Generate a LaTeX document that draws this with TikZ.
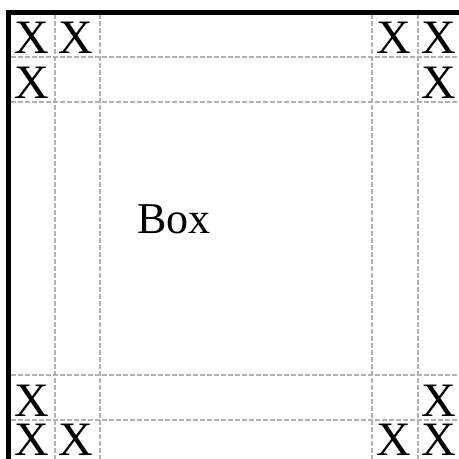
\documentclass[tikz,border=0pt]{standalone}
\usepackage{fontspec}
\setmainfont{Liberation Serif}
\begin{document}
\begin{tikzpicture}[x=1pt,y=-1pt,
  grid/.style={draw=black!30, line width=1.2pt, dash pattern=on 4.5pt off 2.5pt},
  edge/.style={draw=black, line width=5pt},
  mark X/.style={inner sep=0pt, anchor=base west, font=\fontsize{48}{48}\selectfont},
  label box/.style={inner sep=0pt, anchor=base west, font=\fontsize{44}{44}\selectfont}]
\useasboundingbox (0,0) rectangle (459,459);
% dashed grid
\foreach \x in {55,100,372,418} \draw[grid] (\x,14) -- (\x,459);
\foreach \y in {57,102,375,420} \draw[grid] (11,\y) -- (459,\y);
% thick border (left and top)
\draw[edge] (8.5,459) -- (8.5,12.5) -- (459,12.5);
% X marks
\node[mark X] (x11) at (14,53) {X};
\node[mark X] (x12) at (58,53) {X};
\node[mark X] (x13) at (376,53) {X};
\node[mark X] (x14) at (421,53) {X};
\node[mark X] (x21) at (14,98) {X};
\node[mark X] (x24) at (421,98) {X};
\node[mark X] (x31) at (14,416) {X};
\node[mark X] (x34) at (421,416) {X};
\node[mark X] (x41) at (14,455) {X};
\node[mark X] (x42) at (58,455) {X};
\node[mark X] (x43) at (376,455) {X};
\node[mark X] (x44) at (421,455) {X};
% label
\node[label box] (box) at (137,233) {Box};
\end{tikzpicture}
\end{document}
